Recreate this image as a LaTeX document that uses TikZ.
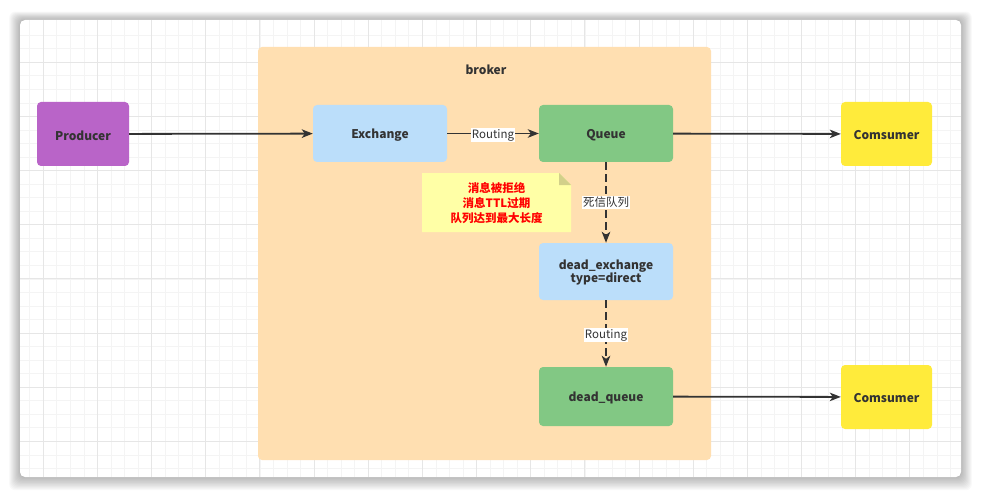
\documentclass[tikz,border=0pt]{standalone}
\usepackage{fontspec}
\setmainfont{Noto Sans CJK SC}
\usetikzlibrary{arrows.meta}
\definecolor{txt}{HTML}{333333}
\definecolor{prodc}{HTML}{B964C8}
\definecolor{brokc}{HTML}{FFDFB1}
\definecolor{exc}{HTML}{BBDEFA}
\definecolor{queuec}{HTML}{82C884}
\definecolor{consc}{HTML}{FFEB3B}
\definecolor{notec}{HTML}{FFFFA6}
\definecolor{foldc}{HTML}{D2D08A}
\definecolor{minorg}{HTML}{F4F4F4}
\definecolor{majorg}{HTML}{E6E6E6}
\tikzset{
  box/.style={draw=none, rounded corners=4pt, inner sep=0pt},
  boxtext/.style={text=txt, font=\fontsize{12}{14}\selectfont\bfseries, align=center, yshift=-1.5pt},
  conn/.style={draw=txt, line width=1.8pt, -{Stealth[length=11pt,width=8.5pt,inset=3pt]}},
  dconn/.style={conn, dash pattern=on 8pt off 4pt},
  elabel/.style={fill=white, inner sep=1pt, text=txt, font=\fontsize{11.5}{13}\selectfont, yshift=-1.5pt}
}
\begin{document}
\begin{tikzpicture}[x=1pt,y=-1pt]
\useasboundingbox (0,0) rectangle (981,497);
\fill[white] (0,0) rectangle (981,497);
% card shadow
\foreach \i in {1,...,12}{
  \fill[black, opacity=0.025, rounded corners=6pt] (20-\i*0.9,20-\i*0.7) rectangle (961+\i*0.9,477+\i*1.1);
}
\fill[white, rounded corners=5pt] (20,20) rectangle (961,477);
\begin{scope}
  \clip[rounded corners=5pt] (20,20) rectangle (961,477);
  \foreach \k in {-2,...,72}{
    \draw[minorg, line width=0.8pt] (43.3+\k*13.54,20) -- (43.3+\k*13.54,477);
  }
  \foreach \k in {-2,...,36}{
    \draw[minorg, line width=0.8pt] (20,62.3+\k*13.54) -- (961,62.3+\k*13.54);
  }
  \foreach \k in {-1,...,18}{
    \draw[majorg, line width=0.9pt] (43.3+\k*54.15,20) -- (43.3+\k*54.15,477);
  }
  \foreach \k in {-1,...,9}{
    \draw[majorg, line width=0.9pt] (20,62.3+\k*54.15) -- (961,62.3+\k*54.15);
  }
\end{scope}
% broker
\fill[brokc, rounded corners=4pt] (258,47) rectangle (711,460);
\node[text=txt, font=\fontsize{12}{14}\selectfont\bfseries] (brokerlbl) at (486,69.5) {broker};
% nodes
\node[box, fill=prodc, minimum width=92pt, minimum height=64pt, label={[boxtext]center:Producer}] (prod) at (83,134) {};
\node[box, fill=exc, minimum width=134pt, minimum height=57pt, label={[boxtext]center:Exchange}] (ex) at (380,133.5) {};
\node[box, fill=queuec, minimum width=134pt, minimum height=57pt, label={[boxtext]center:Queue}] (q) at (606,133.5) {};
\node[box, fill=consc, minimum width=91pt, minimum height=64pt, label={[boxtext]center:Comsumer}] (c1) at (886.5,134) {};
\node[box, fill=exc, minimum width=134pt, minimum height=57pt, label={[boxtext]center:dead\_exchange\\[-1pt]type=direct}] (dex) at (606,271.5) {};
\node[box, fill=queuec, minimum width=134pt, minimum height=59pt, label={[boxtext]center:dead\_queue}] (dq) at (606,396.5) {};
\node[box, fill=consc, minimum width=91pt, minimum height=64pt, label={[boxtext]center:Comsumer}] (c2) at (886.5,397) {};
% note
\fill[notec] (422,173) -- (559,173) -- (571,185) -- (571,232) -- (422,232) -- cycle;
\fill[foldc] (559,173) -- (571,185) -- (559,185) -- cycle;
\node[text=red, font=\fontsize{11.5}{15}\selectfont\bfseries, align=center] (note) at (496.5,203.5) {消息被拒绝\\消息TTL过期\\队列达到最大长度};
% connectors
\draw[conn] (prod) -- (ex);
\draw[conn] (ex) -- node[elabel] (r1) {Routing} (q);
\draw[conn] (q) -- (c1);
\draw[dconn] (q) -- node[elabel, pos=0.48] (dl) {死信队列} (dex);
\draw[dconn] (dex) -- node[elabel, pos=0.5] (r2) {Routing} (dq);
\draw[conn] (dq) -- (c2);
\end{tikzpicture}
\end{document}
